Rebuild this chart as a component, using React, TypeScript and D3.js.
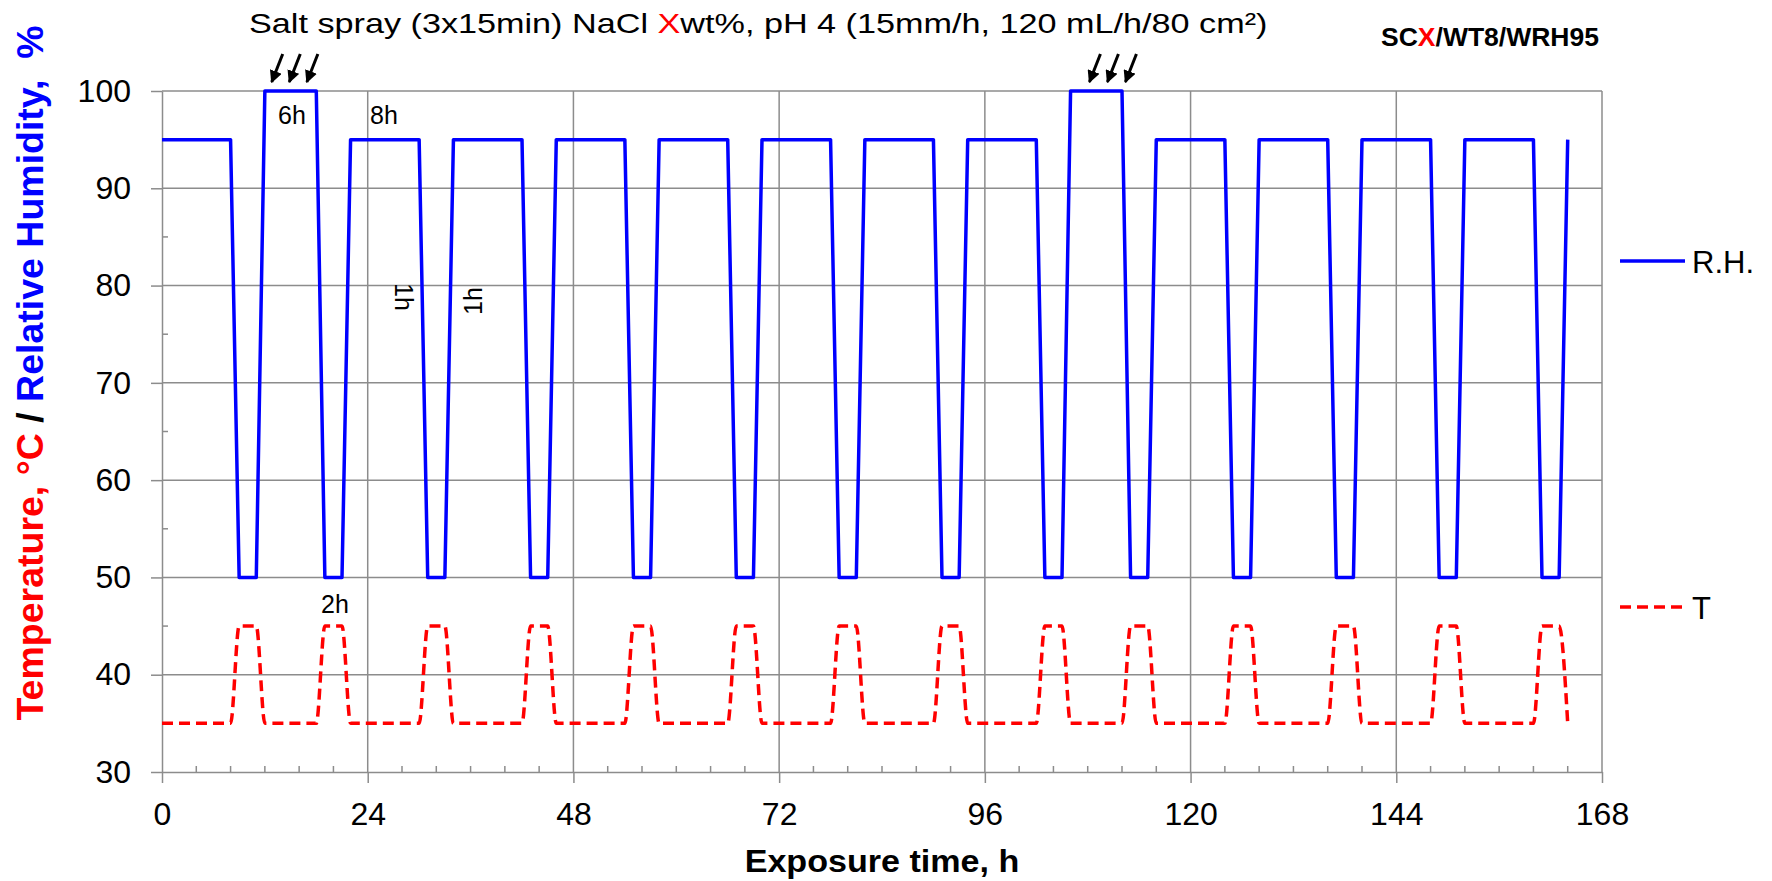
import React, { useEffect, useRef } from "react";
import * as d3 from "d3";

// breakpoints of the cycle (h) and the set values at each of them
const hours = [0, 8, 9, 11, 12, 18, 19, 21, 22, 30, 31, 33, 34, 42, 43, 45, 46, 54, 55, 57, 58, 66, 67, 69, 70, 78, 79, 81, 82, 90, 91, 93, 94, 102, 103, 105, 106, 112, 113, 115, 116, 124, 125, 127, 128, 136, 137, 139, 140, 148, 149, 151, 152, 160, 161, 163, 164];
const rhValues = [95, 95, 50, 50, 100, 100, 50, 50, 95, 95, 50, 50, 95, 95, 50, 50, 95, 95, 50, 50, 95, 95, 50, 50, 95, 95, 50, 50, 95, 95, 50, 50, 95, 95, 50, 50, 100, 100, 50, 50, 95, 95, 50, 50, 95, 95, 50, 50, 95, 95, 50, 50, 95, 95, 50, 50, 95];
const tempValues = [35, 35, 45, 45, 35, 35, 45, 45, 35, 35, 45, 45, 35, 35, 45, 45, 35, 35, 45, 45, 35, 35, 45, 45, 35, 35, 45, 45, 35, 35, 45, 45, 35, 35, 45, 45, 35, 35, 45, 45, 35, 35, 45, 45, 35, 35, 45, 45, 35, 35, 45, 45, 35, 35, 45, 45, 35];

const xTicks = [0, 24, 48, 72, 96, 120, 144, 168];
const yTicks = [30, 40, 50, 60, 70, 80, 90, 100];
// salt spray arrows (hour where each arrow points)
const sprayArrows = [12.8, 14.85, 16.9, 108.2, 110.3, 112.4];

const W = 1772;
const H = 881;
const FONT = "'Liberation Sans', Arial, sans-serif";
const GRID = "#8c8c8c";

const Chart = () => {
  const ref = useRef(null);

  useEffect(() => {
    const svg = d3.select(ref.current);
    svg.selectAll("*").remove();

    const margin = { top: 91, right: 170, bottom: 109, left: 162 };
    const innerW = W - margin.left - margin.right;
    const innerH = H - margin.top - margin.bottom;

    const x = d3.scaleLinear().domain([0, 168]).range([0, innerW]);
    const y = d3.scaleLinear().domain([30, 100]).range([innerH, 0]);

    const g = svg.append("g").attr("transform", `translate(${margin.left},${margin.top})`);

    // grid
    g.selectAll(".hgrid")
      .data(yTicks.slice(1))
      .join("line")
      .attr("x1", 0).attr("x2", innerW)
      .attr("y1", d => y(d)).attr("y2", d => y(d))
      .attr("stroke", GRID).attr("stroke-width", 1.5);
    g.selectAll(".vgrid")
      .data(xTicks.slice(1))
      .join("line")
      .attr("x1", d => x(d)).attr("x2", d => x(d))
      .attr("y1", 0).attr("y2", innerH)
      .attr("stroke", GRID).attr("stroke-width", 1.5);

    // minor ticks (inside)
    g.selectAll(".yminor")
      .data(d3.range(35, 100, 10))
      .join("line")
      .attr("x1", 0).attr("x2", 6)
      .attr("y1", d => y(d)).attr("y2", d => y(d))
      .attr("stroke", GRID).attr("stroke-width", 1.5);
    g.selectAll(".xminor")
      .data(d3.range(4, 168, 4).filter(d => d % 24 !== 0))
      .join("line")
      .attr("x1", d => x(d)).attr("x2", d => x(d))
      .attr("y1", innerH).attr("y2", innerH - 6)
      .attr("stroke", GRID).attr("stroke-width", 1.5);

    // axes
    const yAxisG = g.append("g")
      .call(d3.axisLeft(y).tickValues(yTicks).tickSize(11).tickSizeOuter(0).tickPadding(20));
    const xAxisG = g.append("g")
      .attr("transform", `translate(0,${innerH})`)
      .call(d3.axisBottom(x).tickValues(xTicks).tickSize(11).tickSizeOuter(0).tickPadding(19));
    [yAxisG, xAxisG].forEach(a => {
      a.selectAll("path, line").attr("stroke", GRID).attr("stroke-width", 1.5);
      a.selectAll("text").attr("font-family", FONT).attr("font-size", 32).attr("fill", "#000");
    });

    // series
    const rhLine = d3.line().x((d, i) => x(hours[i])).y(d => y(d));
    const tLine = d3.line().x((d, i) => x(hours[i])).y(d => y(d)).curve(d3.curveMonotoneX);

    g.append("path")
      .attr("d", tLine(tempValues))
      .attr("fill", "none").attr("stroke", "#ff0000")
      .attr("stroke-width", 3.5).attr("stroke-dasharray", "11 6");
    g.append("path")
      .attr("d", rhLine(rhValues))
      .attr("fill", "none").attr("stroke", "#0000ff")
      .attr("stroke-width", 3.5).attr("stroke-linejoin", "round");

    // spray arrows
    svg.append("defs").append("marker")
      .attr("id", "ah").attr("viewBox", "0 0 10 10")
      .attr("refX", 9).attr("refY", 5)
      .attr("markerWidth", 4.2).attr("markerHeight", 4.2)
      .attr("orient", "auto")
      .append("path").attr("d", "M0,0L10,5L0,10z").attr("fill", "#000");
    g.selectAll(".arrow")
      .data(sprayArrows)
      .join("line")
      .attr("x1", d => x(d) + 11).attr("y1", y(100) - 37)
      .attr("x2", d => x(d)).attr("y2", y(100) - 9)
      .attr("stroke", "#000").attr("stroke-width", 3)
      .attr("marker-end", "url(#ah)");

    // duration notes
    const note = (t, px, py, rot) => {
      const el = g.append("text")
        .attr("font-family", FONT).attr("font-size", 25).attr("fill", "#000")
        .text(t);
      if (rot) {
        el.attr("text-anchor", "middle").attr("dominant-baseline", "central")
          .attr("transform", `translate(${px},${py}) rotate(${rot})`);
      } else {
        el.attr("x", px).attr("y", py);
      }
    };
    note("6h", 116, 33);
    note("8h", 208, 33);
    note("2h", 159, 522);
    note("1h", 242, 206, 90);
    note("1h", 311, 210, -90);

    // legend
    const legend = [
      { label: "R.H.", y: 261, color: "#0000ff", dash: null },
      { label: "T", y: 607, color: "#ff0000", dash: "11 6" },
    ];
    legend.forEach(l => {
      svg.append("line")
        .attr("x1", 1620).attr("x2", 1685).attr("y1", l.y).attr("y2", l.y)
        .attr("stroke", l.color).attr("stroke-width", 3.5)
        .attr("stroke-dasharray", l.dash);
      svg.append("text")
        .attr("x", 1692).attr("y", l.y + 12)
        .attr("font-family", FONT).attr("font-size", 31).attr("fill", "#000")
        .text(l.label);
    });

    // axis titles
    svg.append("text")
      .attr("transform", "translate(882,872) scale(1.1,1)")
      .attr("text-anchor", "middle")
      .attr("font-family", FONT).attr("font-size", 31).attr("font-weight", "bold")
      .text("Exposure time, h");

    const yl = svg.append("text")
      .attr("transform", "translate(43,373) rotate(-90)")
      .attr("text-anchor", "middle")
      .attr("font-family", FONT).attr("font-size", 37.5).attr("font-weight", "bold")
      .style("white-space", "pre");
    yl.append("tspan").attr("fill", "#ff0000").text("Temperature, °C");
    yl.append("tspan").attr("fill", "#000").text(" / ");
    yl.append("tspan").attr("fill", "#0000ff").text("Relative Humidity,  %");

    // top titles
    const tt = svg.append("text")
      .attr("transform", "translate(249,33) scale(1.2,1)")
      .attr("font-family", FONT).attr("font-size", 28.5).attr("fill", "#000")
      .style("white-space", "pre");
    tt.append("tspan").text("Salt spray (3x15min) NaCl ");
    tt.append("tspan").attr("fill", "#ff0000").text("X");
    tt.append("tspan").text("wt%, pH 4 (15mm/h, 120 mL/h/80 cm²)");

    const sc = svg.append("text")
      .attr("x", 1381).attr("y", 46)
      .attr("font-family", FONT).attr("font-size", 26.5).attr("font-weight", "bold")
      .attr("fill", "#000");
    sc.append("tspan").text("SC");
    sc.append("tspan").attr("fill", "#ff0000").text("X");
    sc.append("tspan").text("/WT8/WRH95");
  }, []);

  return <svg ref={ref} width={W} height={H} style={{ position: "absolute", left: 0, top: 0, background: "#fff" }} />;
};

export default function App() {
  return <Chart />;
}
